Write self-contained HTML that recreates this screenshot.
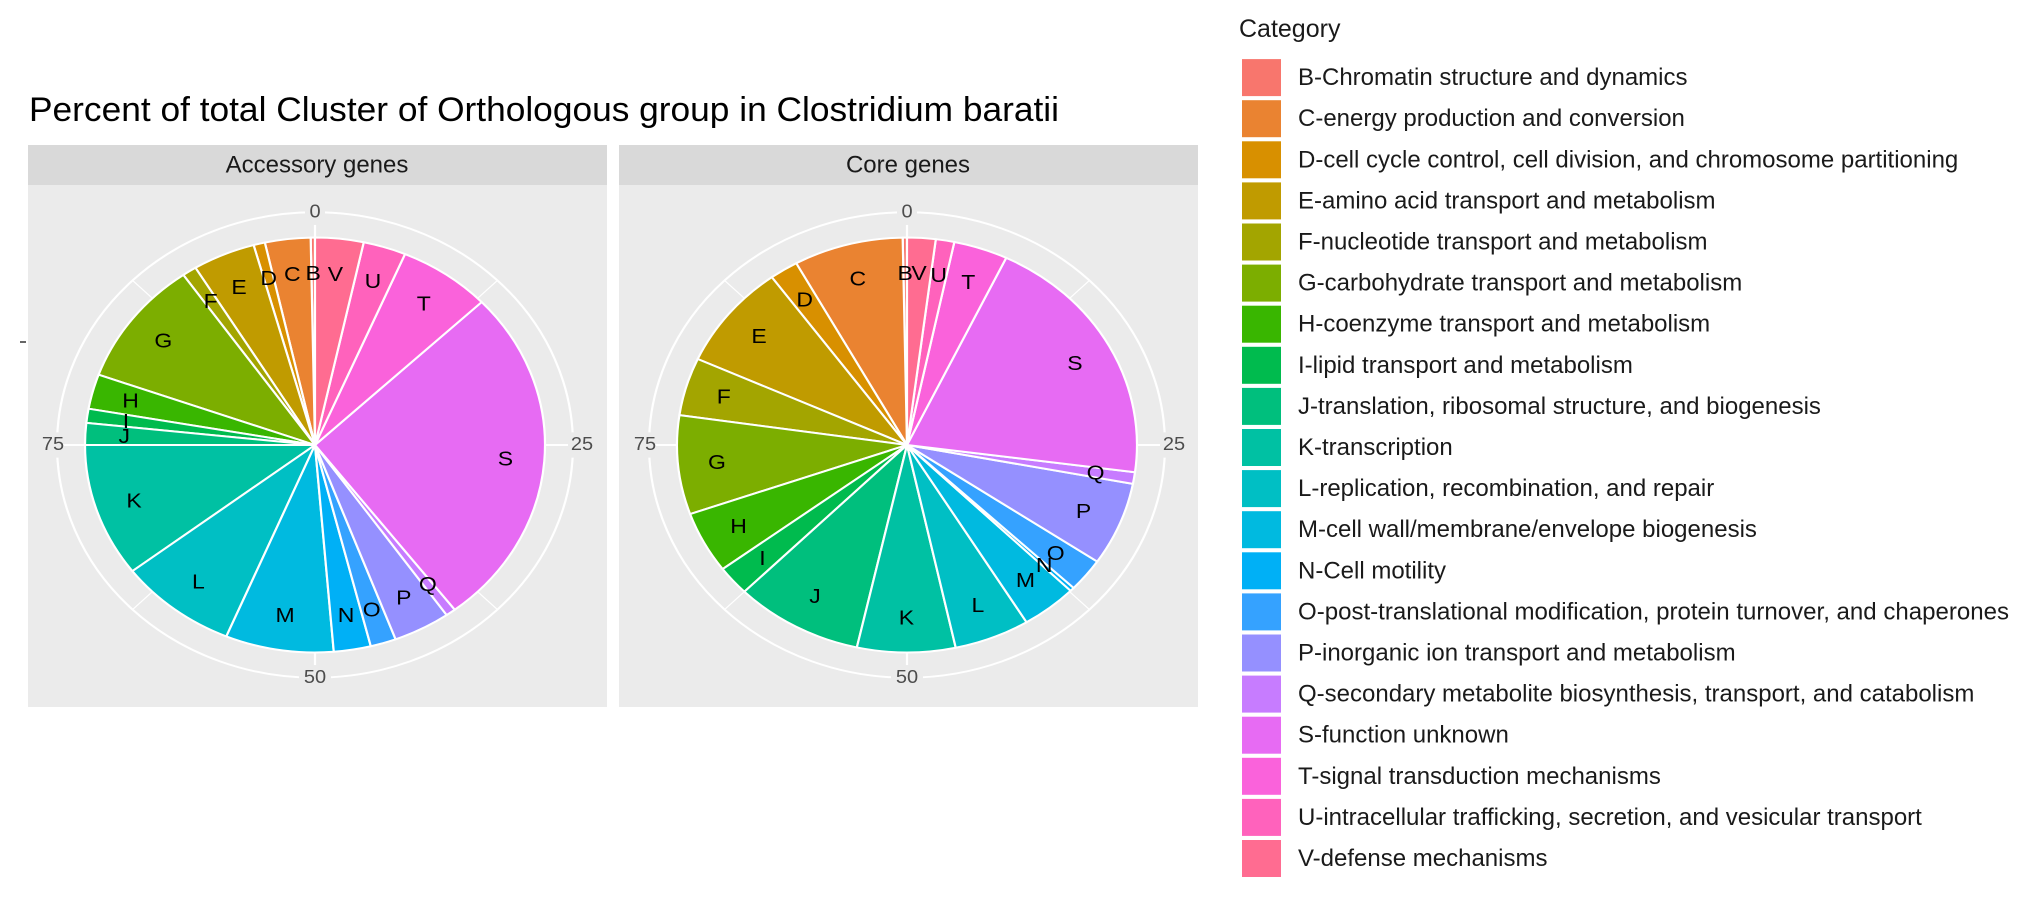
<!DOCTYPE html>
<html><head><meta charset="utf-8"><style>
html,body{margin:0;padding:0;background:#fff;}
svg{display:block;font-family:"Liberation Sans",sans-serif;}
.lab{font-size:23px;fill:#000;text-anchor:middle;dominant-baseline:central;}
.ax{font-size:20px;fill:#4d4d4d;text-anchor:middle;dominant-baseline:central;}
.leg{font-size:24px;fill:#1a1a1a;dominant-baseline:central;}
</style></head><body>
<svg id="s" width="2024" height="900" viewBox="0 0 2024 900" xmlns="http://www.w3.org/2000/svg">
<rect width="2024" height="900" fill="#fff"/>
<text x="29" y="121" font-size="34" fill="#000" textLength="1030" lengthAdjust="spacingAndGlyphs">Percent of total Cluster of Orthologous group in Clostridium baratii</text>
<!-- panels -->
<rect x="28" y="145" width="579" height="40" fill="#d9d9d9"/>
<rect x="28" y="185" width="579" height="522" fill="#ebebeb"/>
<text x="317" y="165" font-size="24" fill="#1a1a1a" text-anchor="middle" dominant-baseline="central">Accessory genes</text>
<rect x="619" y="145" width="579" height="40" fill="#d9d9d9"/>
<rect x="619" y="185" width="579" height="522" fill="#ebebeb"/>
<text x="908" y="165" font-size="24" fill="#1a1a1a" text-anchor="middle" dominant-baseline="central">Core genes</text>
<line x1="20" y1="342" x2="26" y2="342" stroke="#333" stroke-width="1.5"/>

<g id="p1" transform="translate(315,445) scale(1,0.902)">
<g class="grid"></g><g class="wedges"></g>
<rect x="-10" y="-272" width="20" height="28" fill="#ebebeb"/>
<text class="ax" x="0" y="-258">0</text>
<rect x="253" y="-14" width="30" height="28" fill="#ebebeb"/>
<text class="ax" x="267" y="0">25</text>
<rect x="-16" y="244" width="32" height="28" fill="#ebebeb"/>
<text class="ax" x="0" y="258">50</text>
<rect x="-280" y="-14" width="28" height="28" fill="#ebebeb"/>
<text class="ax" x="-262" y="0">75</text>
<g class="labels">
<text class="lab" data-l="B">B</text><text class="lab" data-l="C">C</text><text class="lab" data-l="D">D</text><text class="lab" data-l="E">E</text><text class="lab" data-l="F">F</text><text class="lab" data-l="G">G</text><text class="lab" data-l="H">H</text><text class="lab" data-l="I">I</text><text class="lab" data-l="J">J</text><text class="lab" data-l="K">K</text><text class="lab" data-l="L">L</text><text class="lab" data-l="M">M</text><text class="lab" data-l="N">N</text><text class="lab" data-l="O">O</text><text class="lab" data-l="P">P</text><text class="lab" data-l="Q">Q</text><text class="lab" data-l="S">S</text><text class="lab" data-l="T">T</text><text class="lab" data-l="U">U</text><text class="lab" data-l="V">V</text>
</g></g>

<g id="p2" transform="translate(907,445) scale(1,0.902)">
<g class="grid"></g><g class="wedges"></g>
<rect x="-10" y="-272" width="20" height="28" fill="#ebebeb"/>
<text class="ax" x="0" y="-258">0</text>
<rect x="253" y="-14" width="30" height="28" fill="#ebebeb"/>
<text class="ax" x="267" y="0">25</text>
<rect x="-16" y="244" width="32" height="28" fill="#ebebeb"/>
<text class="ax" x="0" y="258">50</text>
<rect x="-280" y="-14" width="28" height="28" fill="#ebebeb"/>
<text class="ax" x="-262" y="0">75</text>
<g class="labels">
<text class="lab" data-l="B">B</text><text class="lab" data-l="C">C</text><text class="lab" data-l="D">D</text><text class="lab" data-l="E">E</text><text class="lab" data-l="F">F</text><text class="lab" data-l="G">G</text><text class="lab" data-l="H">H</text><text class="lab" data-l="I">I</text><text class="lab" data-l="J">J</text><text class="lab" data-l="K">K</text><text class="lab" data-l="L">L</text><text class="lab" data-l="M">M</text><text class="lab" data-l="N">N</text><text class="lab" data-l="O">O</text><text class="lab" data-l="P">P</text><text class="lab" data-l="Q">Q</text><text class="lab" data-l="S">S</text><text class="lab" data-l="T">T</text><text class="lab" data-l="U">U</text><text class="lab" data-l="V">V</text>
</g></g>

<!-- legend -->
<text x="1239" y="29" font-size="25" fill="#1a1a1a" dominant-baseline="central">Category</text>
<g id="legsw"></g>
<text class="leg" x="1298" y="77.6">B-Chromatin structure and dynamics</text>
<text class="leg" x="1298" y="118.7">C-energy production and conversion</text>
<text class="leg" x="1298" y="159.8">D-cell cycle control, cell division, and chromosome partitioning</text>
<text class="leg" x="1298" y="200.9">E-amino acid transport and metabolism</text>
<text class="leg" x="1298" y="242">F-nucleotide transport and metabolism</text>
<text class="leg" x="1298" y="283.1">G-carbohydrate transport and metabolism</text>
<text class="leg" x="1298" y="324.2">H-coenzyme transport and metabolism</text>
<text class="leg" x="1298" y="365.3">I-lipid transport and metabolism</text>
<text class="leg" x="1298" y="406.4">J-translation, ribosomal structure, and biogenesis</text>
<text class="leg" x="1298" y="447.5">K-transcription</text>
<text class="leg" x="1298" y="488.6">L-replication, recombination, and repair</text>
<text class="leg" x="1298" y="529.7">M-cell wall/membrane/envelope biogenesis</text>
<text class="leg" x="1298" y="570.8">N-Cell motility</text>
<text class="leg" x="1298" y="611.9" textLength="711" lengthAdjust="spacingAndGlyphs">O-post-translational modification, protein turnover, and chaperones</text>
<text class="leg" x="1298" y="653">P-inorganic ion transport and metabolism</text>
<text class="leg" x="1298" y="694.1">Q-secondary metabolite biosynthesis, transport, and catabolism</text>
<text class="leg" x="1298" y="735.2">S-function unknown</text>
<text class="leg" x="1298" y="776.3">T-signal transduction mechanisms</text>
<text class="leg" x="1298" y="817.4">U-intracellular trafficking, secretion, and vesicular transport</text>
<text class="leg" x="1298" y="858.5">V-defense mechanisms</text>
</svg>
<script>
(function(){
var NS="http://www.w3.org/2000/svg";
var L="BCDEFGHIJKLMNOPQSTUV".split("");
var cols=["#F8766D","#EA8331","#D89000","#C09B00","#A3A500","#7CAE00","#39B600","#00BB4E","#00BF7D","#00C1A3","#00BFC4","#00BAE0","#00B0F6","#35A2FF","#9590FF","#C77CFF","#E76BF3","#FA62DB","#FF62BC","#FF6C91"];
var acc={V:[0,3.4],U:[3.4,6.4],T:[6.4,12.9],S:[12.9,39.6],Q:[39.6,40.3],P:[40.3,44.3],O:[44.3,46.1],N:[46.1,48.7],M:[48.7,56.3],L:[56.3,64.6],K:[64.6,75],J:[75,76.7],I:[76.7,77.8],H:[77.8,80.5],G:[80.5,90.3],F:[90.3,91.3],E:[91.3,95.7],D:[95.7,96.5],C:[96.5,99.7],B:[99.7,100]};
var core={V:[0,2.0],U:[2.0,3.3],T:[3.3,7.1],S:[7.1,27.1],Q:[27.1,28.0],P:[28,34.5],O:[34.5,37.1],N:[37.1,37.4],M:[37.4,41.3],L:[41.3,46.6],K:[46.6,53.5],J:[53.5,62.5],I:[62.5,64.8],H:[64.8,69.6],G:[69.6,77.3],F:[77.3,81.8],E:[81.8,90.0],D:[90,92],C:[92,99.7],B:[99.7,100]};
function pt(p,r){var a=p/100*2*Math.PI;return [r*Math.sin(a),-r*Math.cos(a)];}
function build(id,data){
 var g=document.getElementById(id);
 var grid=g.querySelector(".grid"),w=g.querySelector(".wedges");
 var c=document.createElementNS(NS,"circle");c.setAttribute("r",258);c.setAttribute("fill","none");c.setAttribute("stroke","#fff");c.setAttribute("stroke-width",2.2);grid.appendChild(c);
 for(var k=0;k<8;k++){var q=pt(k*12.5,258);var ln=document.createElementNS(NS,"line");ln.setAttribute("x1",0);ln.setAttribute("y1",0);ln.setAttribute("x2",q[0]);ln.setAttribute("y2",q[1]);ln.setAttribute("stroke","#fff");ln.setAttribute("stroke-width",k%2?1.2:2.2);grid.appendChild(ln);}
 var R=230;
 L.forEach(function(l,i){var s=data[l];var a=pt(s[0],R),b=pt(s[1],R);var large=(s[1]-s[0])>50?1:0;
  var p=document.createElementNS(NS,"path");
  p.setAttribute("d","M0,0L"+a[0].toFixed(2)+","+a[1].toFixed(2)+"A"+R+","+R+" 0 "+large+" 1 "+b[0].toFixed(2)+","+b[1].toFixed(2)+"Z");
  p.setAttribute("fill",cols[i]);p.setAttribute("stroke","#fff");p.setAttribute("stroke-width",2.2);p.setAttribute("stroke-linejoin","round");w.appendChild(p);});
 var ts=g.querySelectorAll(".labels text");
 for(var j=0;j<ts.length;j++){var l=ts[j].getAttribute("data-l");var s=data[l];var m=pt((s[0]+s[1])/2,191);ts[j].setAttribute("x",m[0].toFixed(1));ts[j].setAttribute("y",m[1].toFixed(1));}
}
build("p1",acc);build("p2",core);
var lg=document.getElementById("legsw");
for(var i=0;i<20;i++){var r=document.createElementNS(NS,"rect");r.setAttribute("x",1242);r.setAttribute("y",(77.6+i*41.1-18.5).toFixed(1));r.setAttribute("width",39);r.setAttribute("height",37);r.setAttribute("fill",cols[i]);lg.appendChild(r);}
})();
</script>
</body></html>
